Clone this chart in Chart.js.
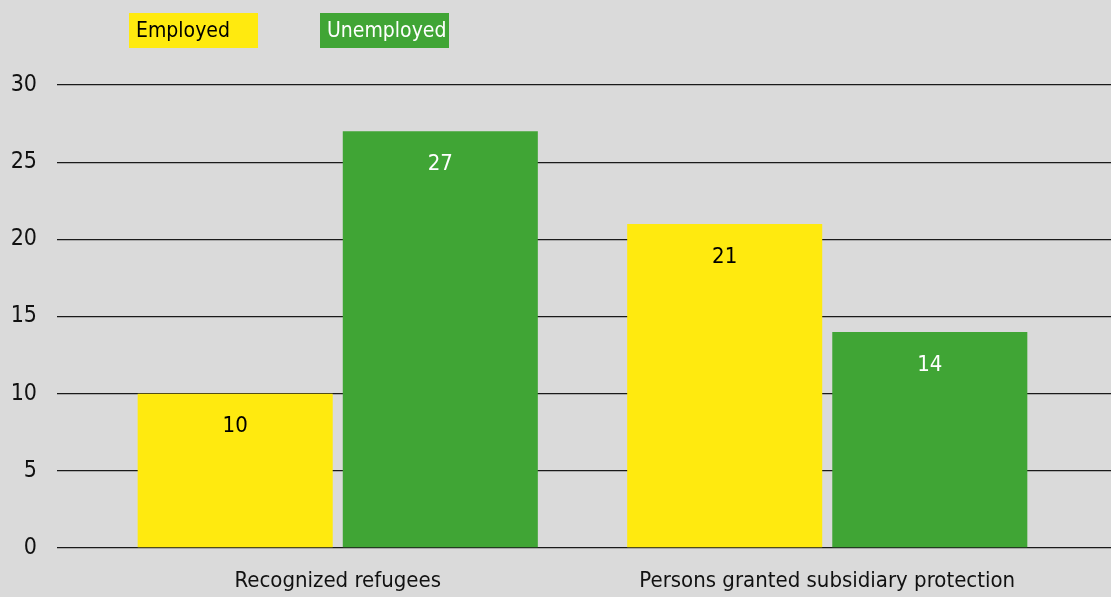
<!DOCTYPE html>
<html>
<head>
<meta charset="utf-8">
<script src="https://cdn.jsdelivr.net/npm/chart.js@4/dist/chart.umd.min.js"></script>
<style>
  html, body { margin:0; padding:0; background:#dadada; }
  #wrap { width:1111px; height:597px; position:relative; }
</style>
</head>
<body>
<div id="wrap"><canvas id="chart"></canvas></div>
<script>
// data
const categories = ['Recognized refugees', 'Persons granted subsidiary protection'];
const employed = [10, 21];
const unemployed = [27, 14];
const seriesNames = ['Employed', 'Unemployed'];
const yTicks = { min: 0, max: 30, step: 5 };

const FONT = '"Liberation Sans Narrow", "DejaVu Sans Condensed", "Arial Narrow", sans-serif';
const YELLOW = '#ffea0f';
const GREEN = '#40a535';
const GRID = '#1a1a1a';

// legend with the text sitting inside a coloured box
const boxLegend = {
    id: 'boxLegend',
    afterDraw(chart) {
        const ctx = chart.ctx;
        const boxes = [{x:129, y:13, w:129, h:35}, {x:320, y:13, w:129, h:35}];
        ctx.save();
        ctx.font = '21px ' + FONT;
        ctx.textBaseline = 'middle';
        ctx.textAlign = 'left';
        chart.data.datasets.forEach((ds, i) => {
            const b = boxes[i];
            ctx.fillStyle = ds.backgroundColor;
            ctx.fillRect(b.x, b.y, b.w, b.h);
            ctx.fillStyle = ds.labelColor;
            ctx.fillText(ds.label, b.x + 7, b.y + b.h / 2 + 1);
        });
        ctx.restore();
    }
};

// value written inside each bar, near its top
const barValues = {
    id: 'barValues',
    afterDatasetsDraw(chart) {
        const ctx = chart.ctx;
        ctx.save();
        ctx.font = '22px ' + FONT;
        ctx.textAlign = 'center';
        ctx.textBaseline = 'middle';
        chart.data.datasets.forEach((ds, i) => {
            chart.getDatasetMeta(i).data.forEach((bar, j) => {
                ctx.fillStyle = ds.labelColor;
                ctx.fillText(String(ds.data[j]), bar.x, bar.y + 33);
            });
        });
        ctx.restore();
    }
};

new Chart(document.getElementById('chart'), {
    type: 'bar',
    data: {
        labels: categories,
        datasets: [
            { label: seriesNames[0], data: employed, backgroundColor: YELLOW, labelColor: '#000',
              barPercentage: 0.951, categoryPercentage: 0.838 },
            { label: seriesNames[1], data: unemployed, backgroundColor: GREEN, labelColor: '#fff',
              barPercentage: 0.951, categoryPercentage: 0.838 }
        ]
    },
    options: {
        responsive: true,
        maintainAspectRatio: false,
        animation: false,
        layout: { padding: { top: 85, left: 0, right: 0, bottom: 0 } },
        plugins: { legend: { display: false }, tooltip: { enabled: false } },
        scales: {
            x: {
                grid: { display: false, drawTicks: false },
                border: { display: false },
                ticks: { color: '#111', font: { family: FONT, size: 22 }, padding: 20, maxRotation: 0 },
                afterFit(s) { s.height = 49; }
            },
            y: {
                min: yTicks.min, max: yTicks.max,
                ticks: { stepSize: yTicks.step, color: '#111', font: { family: FONT, size: 23 }, padding: 20 },
                grid: { color: GRID, lineWidth: 1.3, tickLength: 36, tickColor: GRID },
                border: { display: false },
                afterFit(s) { s.width = 93; }
            },
            yRight: {
                position: 'right',
                min: yTicks.min, max: yTicks.max,
                ticks: { stepSize: yTicks.step, display: false },
                grid: { drawOnChartArea: false, color: GRID, lineWidth: 1.3, tickLength: 39, tickColor: GRID },
                border: { display: false },
                afterFit(s) { s.width = 39; }
            }
        }
    },
    plugins: [boxLegend, barValues]
});
</script>
</body>
</html>
